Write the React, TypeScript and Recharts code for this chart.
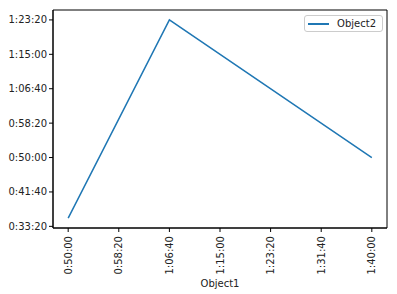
import { LineChart, Line, XAxis, YAxis, ReferenceArea } from "recharts";

// Object1 / Object2 are durations in seconds
const object1 = [3000, 4000, 6000];
const object2 = [2120, 5000, 3000];
const xTicks = [3000, 3500, 4000, 4500, 5000, 5500, 6000];
const yTicks = [2000, 2500, 3000, 3500, 4000, 4500, 5000];

const data = object1.map((x, i) => ({ x, y: object2[i] }));

// matplotlib-like 5% margins
const pad = (vals: number[]) => {
  const lo = Math.min(...vals);
  const hi = Math.max(...vals);
  const m = (hi - lo) * 0.05;
  return [lo - m, hi + m];
};
const xDomain = pad(object1);
const yDomain = pad(object2);

const fmt = (s: number) => {
  const h = Math.floor(s / 3600);
  const m = Math.floor((s % 3600) / 60);
  const sec = Math.round(s % 60);
  return `${h}:${String(m).padStart(2, "0")}:${String(sec).padStart(2, "0")}`;
};

const FONT = "DejaVu Sans, sans-serif";
const BLUE = "#1f77b4";

const XTick = (props: any) => {
  const { x, y, payload } = props;
  return (
    <text
      x={x}
      y={y}
      transform={`rotate(-90, ${x}, ${y})`}
      textAnchor="end"
      dy="0.35em"
      fontSize={10}
      fontFamily={FONT}
      fill="#222"
    >
      {fmt(payload.value)}
    </text>
  );
};

// legend drawn as a plain box so it takes no space from the plot
const LegendBox = () => (
  <div
    style={{
      position: "absolute",
      top: 15,
      right: 14,
      height: 17,
      boxSizing: "border-box",
      border: "1px solid #ccc",
      borderRadius: 3,
      background: "rgba(255,255,255,0.8)",
      padding: "0 6px 0 3px",
      display: "flex",
      alignItems: "center",
      fontFamily: FONT,
      fontSize: 10,
      color: "#222",
    }}
  >
    <span style={{ display: "inline-block", width: 21, height: 2, background: BLUE, marginRight: 8 }} />
    Object2
  </div>
);

export default function App() {
  return (
    <div style={{ position: "absolute", left: 0, top: 0, width: 397, height: 294, background: "#fff" }}>
      <LineChart width={397} height={294} data={data} margin={{ top: 10, right: 10, left: 0, bottom: 0 }}>
        <XAxis
          dataKey="x"
          type="number"
          domain={xDomain}
          ticks={xTicks}
          height={66}
          tickSize={4}
          tickMargin={4}
          stroke="#000"
          tick={<XTick />}
          label={{ value: "Object1", position: "insideBottom", offset: 7, fontSize: 10, fontFamily: FONT, fill: "#222" }}
          allowDataOverflow
        />
        <YAxis
          type="number"
          domain={yDomain}
          ticks={yTicks}
          width={53}
          tickSize={4}
          tickMargin={2}
          stroke="#000"
          tickFormatter={fmt}
          tick={{ fontSize: 10, fontFamily: FONT, fill: "#222" }}
          allowDataOverflow
        />
        <ReferenceArea
          x1={xDomain[0]}
          x2={xDomain[1]}
          y1={yDomain[0]}
          y2={yDomain[1]}
          fill="none"
          stroke="#000"
          strokeWidth={1}
        />
        <Line
          dataKey="y"
          type="linear"
          stroke={BLUE}
          strokeWidth={1.5}
          dot={false}
          isAnimationActive={false}
        />
      </LineChart>
      <LegendBox />
    </div>
  );
}
